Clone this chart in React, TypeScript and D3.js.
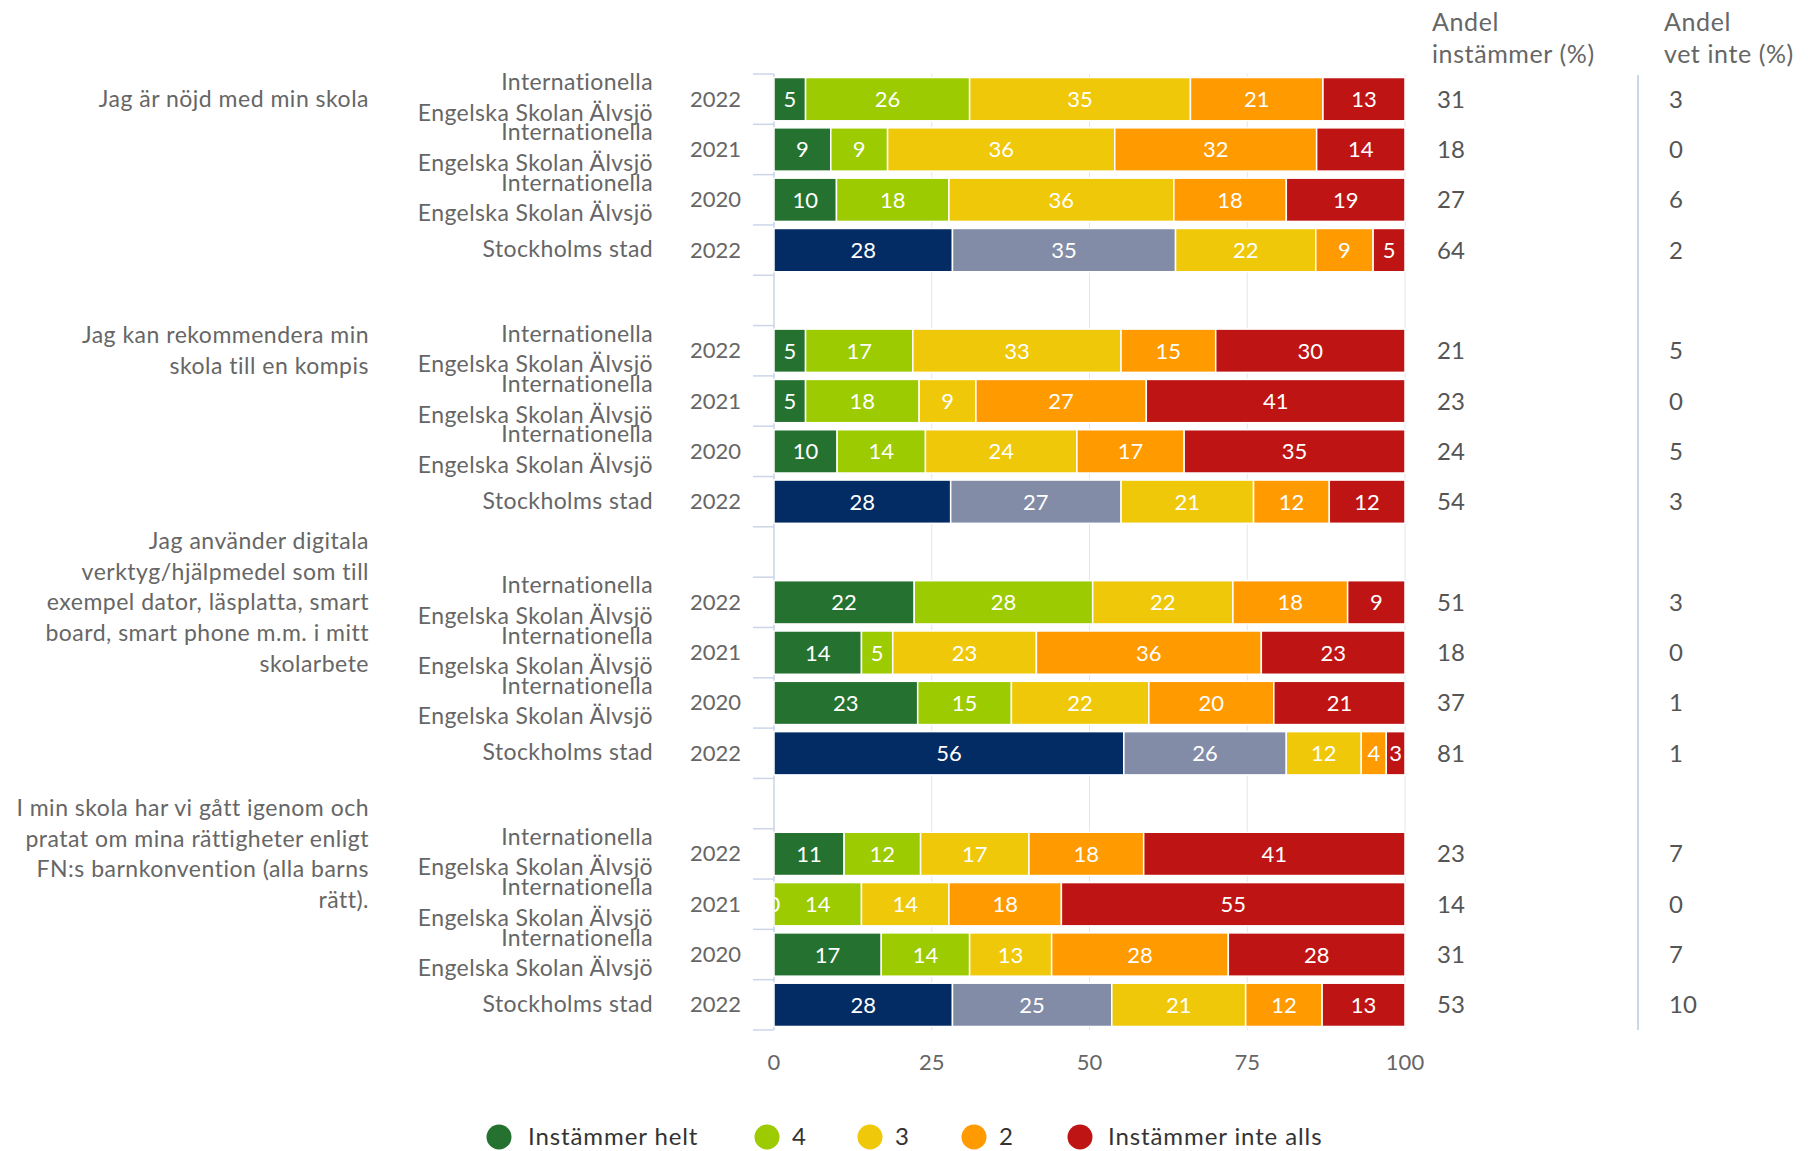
import React from "react";
import * as d3 from "d3";

const questions: string[][] = [
  ["Jag är nöjd med min skola"],
  ["Jag kan rekommendera min", "skola till en kompis"],
  ["Jag använder digitala", "verktyg/hjälpmedel som till", "exempel dator, läsplatta, smart", "board, smart phone m.m. i mitt", "skolarbete"],
  ["I min skola har vi gått igenom och", "pratat om mina rättigheter enligt", "FN:s barnkonvention (alla barns", "rätt)."],
];
const unitLabels: string[][] = [
  ["Internationella", "Engelska Skolan Älvsjö"],
  ["Internationella", "Engelska Skolan Älvsjö"],
  ["Internationella", "Engelska Skolan Älvsjö"],
  ["Stockholms stad"],
];
const years = ["2022", "2021", "2020", "2022"];

const seriesNames = ["Instämmer helt", "4", "3", "2", "Instämmer inte alls"];
const instHelt = [5, 9, 10, 28, 5, 5, 10, 28, 22, 14, 23, 56, 11, 0, 17, 28];
const v4 = [26, 9, 18, 35, 17, 18, 14, 27, 28, 5, 15, 26, 12, 14, 14, 25];
const v3 = [35, 36, 36, 22, 33, 9, 24, 21, 22, 23, 22, 12, 17, 14, 13, 21];
const v2 = [21, 32, 18, 9, 15, 27, 17, 12, 18, 36, 20, 4, 18, 18, 28, 12];
const inteAlls = [13, 14, 19, 5, 30, 41, 35, 12, 9, 23, 21, 3, 41, 55, 28, 13];
const andelInst = [31, 18, 27, 64, 21, 23, 24, 54, 51, 18, 37, 81, 23, 14, 31, 53];
const andelVetInte = [3, 0, 6, 2, 5, 0, 5, 3, 3, 0, 1, 1, 7, 0, 7, 10];
const xTicks = [0, 25, 50, 75, 100];

const schoolColors = ["#257130", "#9BCB00", "#EFC80A", "#FF9A00", "#BF1414"];
const sthlmColors = ["#032C64", "#838CA7", "#EFC80A", "#FF9A00", "#BF1414"];

const FONT = "Lato, 'Open Sans', sans-serif";

export default function App() {
  const W = 1808, H = 1151;
  const x0 = 774, x1 = 1405;
  const top = 74, bottom = 1030;
  const series = [instHelt, v4, v3, v2, inteAlls];

  const keys: string[] = [];
  questions.forEach((_, g) => {
    if (g > 0) keys.push(`gap${g}`);
    for (let r = 0; r < 4; r++) keys.push(`r${g * 4 + r}`);
  });

  const y = d3.scaleBand<string>().domain(keys).range([top, bottom]).paddingInner(0.14).paddingOuter(0.07);
  const x = d3.scaleLinear().domain([0, 100]).range([x0, x1]);

  const rows = d3.range(16).map((i) => {
    const vals = series.map((s) => s[i]);
    const total = d3.sum(vals);
    let acc = 0;
    const segs = vals.map((v, k) => {
      const start = (acc / total) * 100;
      acc += v;
      const end = (acc / total) * 100;
      return { v, start, end, k };
    });
    return { i, segs, cy: (y(`r${i}`) as number) + y.bandwidth() / 2 };
  });

  const boundaries = d3.range(keys.length + 1).map((k) => top + k * ((bottom - top) / keys.length));

  const legendItems = [
    { cx: 499, tx: 528 },
    { cx: 767, tx: 792 },
    { cx: 870, tx: 895 },
    { cx: 974, tx: 999 },
    { cx: 1080, tx: 1108 },
  ];

  return (
    <svg width={W} height={H} style={{ position: "absolute", left: 0, top: 0, background: "#fff" }} fontFamily={FONT}>
      <defs>
        <clipPath id="plotclip">
          <rect x={x0} y={top} width={x1 - x0 + 1} height={bottom - top} />
        </clipPath>
      </defs>
      {xTicks.map((t) => (
        <line key={t} x1={x(t)} x2={x(t)} y1={top} y2={bottom} stroke="#e6e6e6" strokeWidth={1} />
      ))}
      <line x1={x0} x2={x0} y1={top} y2={bottom} stroke="#ccd6eb" strokeWidth={1.5} />
      {boundaries.map((b, k) => (
        <line key={k} x1={x0 - 21} x2={x0} y1={b} y2={b} stroke="#ccd6eb" strokeWidth={1.5} />
      ))}
      {rows.map((row) => {
        const colors = row.i % 4 === 3 ? sthlmColors : schoolColors;
        const by = y(`r${row.i}`) as number;
        return (
          <g key={row.i}>
            {row.segs.map((s) => (
              <rect key={s.k} x={x(s.start)} y={by} width={Math.max(0, x(s.end) - x(s.start))} height={y.bandwidth()}
                fill={colors[s.k]} stroke="#fff" strokeWidth={1.5} />
            ))}
            <g clipPath="url(#plotclip)">
              {row.segs.map((s) => (
                <text key={s.k} x={(x(s.start) + x(s.end)) / 2} y={row.cy + 8} textAnchor="middle" fill="#fff" fontSize={22}>
                  {s.v}
                </text>
              ))}
            </g>
          </g>
        );
      })}
      {rows.map((row) => {
        const lbl = unitLabels[row.i % 4];
        return (
          <g key={row.i} fill="#666">
            <g fontSize={23} letterSpacing={0.4}>
              {lbl.length === 2 ? (
                <>
                  <text x={653} y={row.cy - 9} textAnchor="end">{lbl[0]}</text>
                  <text x={653} y={row.cy + 21.5} textAnchor="end">{lbl[1]}</text>
                </>
              ) : (
                <text x={653} y={row.cy + 7} textAnchor="end">{lbl[0]}</text>
              )}
            </g>
            <text x={741} y={row.cy + 7.5} textAnchor="end" fontSize={22}>{years[row.i % 4]}</text>
            <text x={1437} y={row.cy + 8.5} fill="#555" fontSize={24}>{andelInst[row.i]}</text>
            <text x={1669} y={row.cy + 8.5} fill="#555" fontSize={24}>{andelVetInte[row.i]}</text>
          </g>
        );
      })}
      {questions.map((lines, g) => {
        const cy = rows[g * 4].cy;
        const lh = 30.7;
        const startY = cy - ((lines.length - 1) * lh) / 2 + 8;
        return (
          <g key={g} fill="#666" fontSize={23} letterSpacing={0.5}>
            {lines.map((l, k) => (
              <text key={k} x={369} y={startY + k * lh} textAnchor="end">{l}</text>
            ))}
          </g>
        );
      })}
      <g fill="#666" fontSize={25} letterSpacing={0.6}>
        <text x={1432} y={31}>Andel</text>
        <text x={1432} y={63}>instämmer (%)</text>
        <text x={1664} y={31}>Andel</text>
        <text x={1664} y={63}>vet inte (%)</text>
      </g>
      <line x1={1638} x2={1638} y1={75} y2={bottom} stroke="#ccd6eb" strokeWidth={2} />
      {xTicks.map((t) => (
        <text key={t} x={x(t)} y={1070} textAnchor="middle" fill="#666" fontSize={22}>{t}</text>
      ))}
      {seriesNames.map((n, k) => (
        <g key={n}>
          <circle cx={legendItems[k].cx} cy={1137} r={12.5} fill={schoolColors[k]} />
          <text x={legendItems[k].tx} y={1145} fill="#333" fontSize={24} letterSpacing={0.9}>{n}</text>
        </g>
      ))}
    </svg>
  );
}
